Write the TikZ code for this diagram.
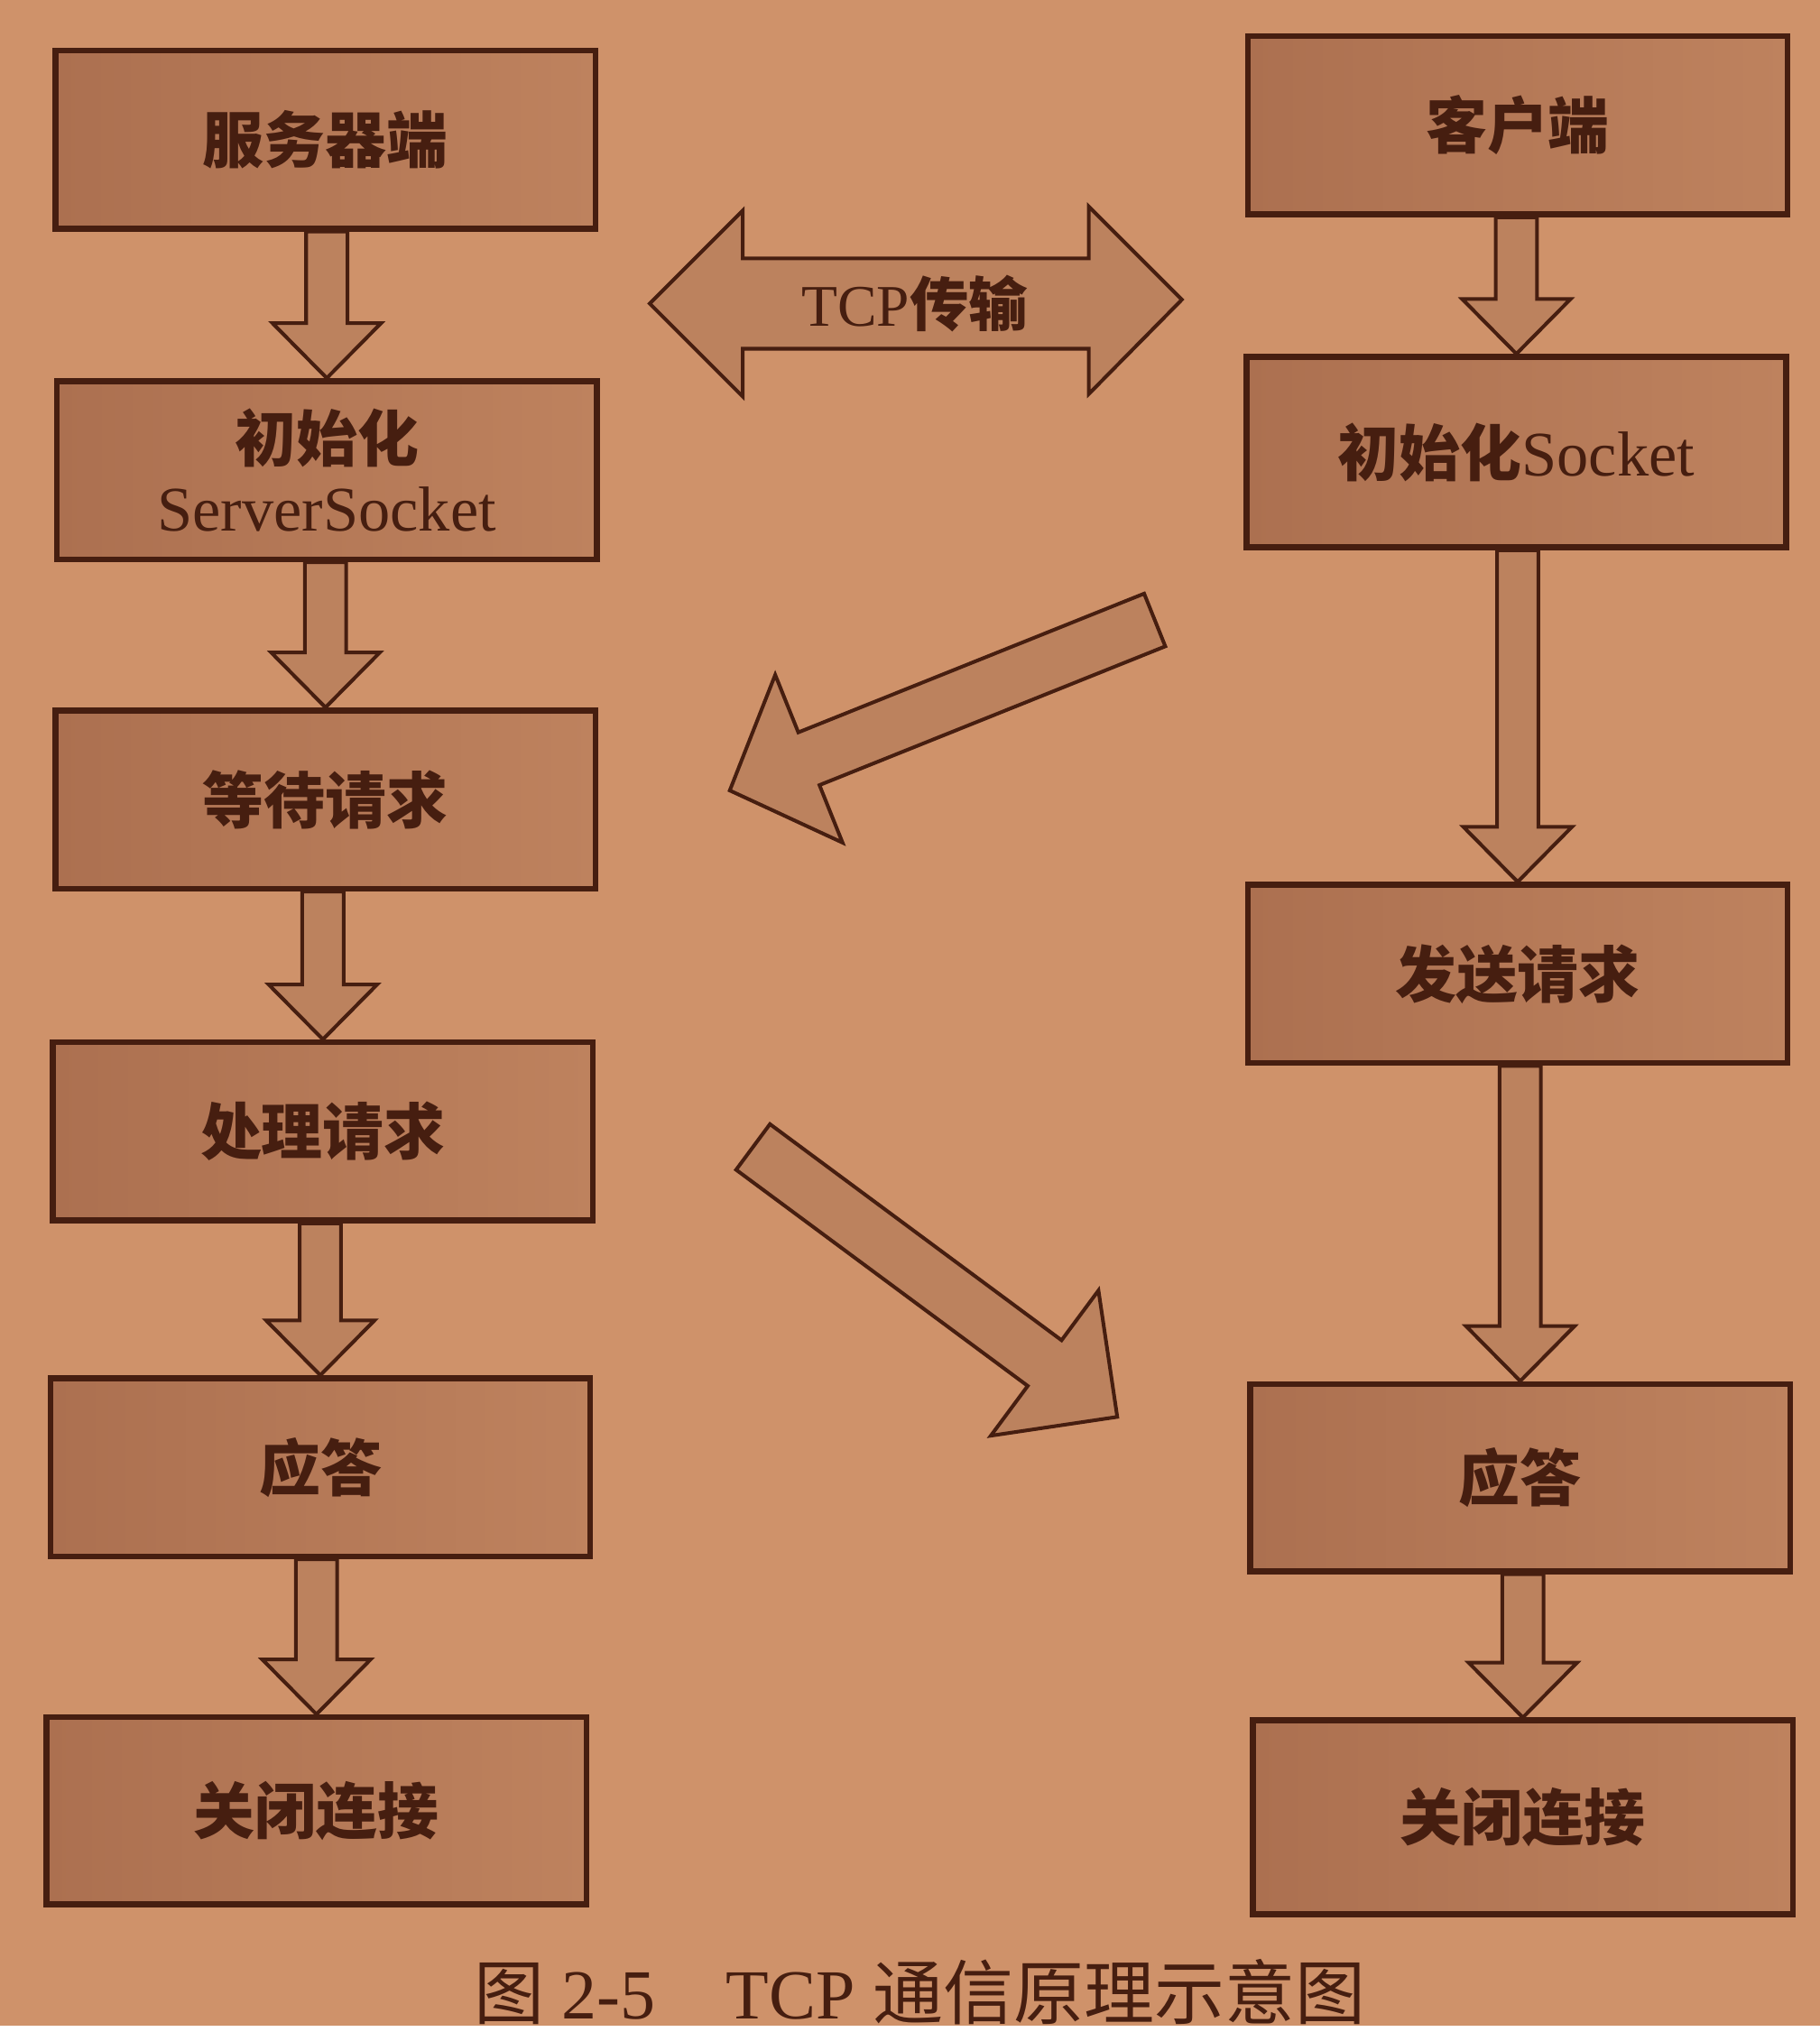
\documentclass[tikz,border=0pt]{standalone}
\usepackage{fontspec}
\setmainfont{Liberation Serif}
\newfontfamily\cjk{Noto Sans CJK SC}
\usetikzlibrary{calc}
\definecolor{paper}{RGB}{207,146,106}
\definecolor{ink}{RGB}{70,30,16}
\definecolor{boxdark}{RGB}{172,112,80}
\definecolor{boxlight}{RGB}{190,130,94}
\definecolor{arrowfill}{RGB}{188,130,94}
% block arrow: start, tip, half shaft, half head, head length
\newcommand{\blockarrow}[5]{%
	\coordinate (ba) at ($(#2)!#5!(#1)$);
	\draw[arrow body] ($(#1)!#3!90:(#2)$) -- ($(ba)!#3!90:(#2)$) -- ($(ba)!#4!90:(#2)$) -- (#2)
	-- ($(ba)!#4!-90:(#2)$) -- ($(ba)!#3!-90:(#2)$) -- ($(#1)!#3!-90:(#2)$) -- cycle;}

\begin{document}
\begin{tikzpicture}[x=0.02cm,y=-0.02cm,
	box node/.style={draw=ink,line width=2.6pt,left color=boxdark,right color=boxlight,minimum width=8.36cm,minimum height=2.76cm,text=ink,align=center,font=\cjk\bfseries\fontsize{27}{31}\selectfont},
	arrow body/.style={draw=ink,line width=1.6pt,fill=arrowfill,line join=miter}]
	\fill[paper] (0,0) rectangle (1409,1568);
	% server side
	\node[box node] (srv) at (252,108) {服务器端};
	\node[box node] (srvinit) at (253,364) {初始化\\{\rmfamily\mdseries\fontsize{28}{31}\selectfont ServerSocket}};
	\node[box node] (wait) at (252,619) {等待请求};
	\node[box node] (proc) at (250,876) {处理请求};
	\node[box node] (srvans) at (248,1136) {应答};
	\node[box node,minimum height=2.9cm] (srvclose) at (245,1402) {关闭连接};
	% client side
	\node[box node] (cli) at (1175,97) {客户端};
	\node[box node,minimum height=2.95cm] (cliinit) at (1174,350) {初始化{\rmfamily\mdseries\fontsize{28}{31}\selectfont Socket}};
	\node[box node] (send) at (1175,754) {发送请求};
	\node[box node,minimum height=2.9cm] (clians) at (1177,1144) {应答};
	\node[box node,minimum height=3cm] (cliclose) at (1179,1407) {关闭连接};
	% flow arrows
	\blockarrow{srv.south -| srvinit.north}{srvinit.north}{0.32cm}{0.84cm}{0.85cm}
	\blockarrow{srvinit.south -| wait.north}{wait.north}{0.32cm}{0.84cm}{0.85cm}
	\blockarrow{wait.south -| proc.north}{proc.north}{0.32cm}{0.84cm}{0.85cm}
	\blockarrow{proc.south -| srvans.north}{srvans.north}{0.32cm}{0.84cm}{0.85cm}
	\blockarrow{srvans.south -| srvclose.north}{srvclose.north}{0.32cm}{0.84cm}{0.85cm}
	\blockarrow{cli.south -| cliinit.north}{cliinit.north}{0.32cm}{0.84cm}{0.85cm}
	\blockarrow{cliinit.south -| send.north}{send.north}{0.32cm}{0.84cm}{0.85cm}
	\blockarrow{send.south -| clians.north}{clians.north}{0.32cm}{0.84cm}{0.85cm}
	\blockarrow{clians.south -| cliclose.north}{cliclose.north}{0.32cm}{0.84cm}{0.85cm}
	% request and reply
	\coordinate (reqtail) at (894,480);
	\coordinate (reqtip) at (565,612);
	\coordinate (reptail) at (583,888);
	\coordinate (reptip) at (865,1097);
	\blockarrow{reqtail}{reqtip}{0.44cm}{1.4cm}{1.32cm}
	\blockarrow{reptail}{reptip}{0.44cm}{1.4cm}{1.4cm}
	% tcp transfer
	\draw[arrow body] (503,235) -- (575,163) -- (575,200) -- (843,200) -- (843,160) -- (915,232)
	-- (843,305) -- (843,270) -- (575,270) -- (575,307) -- cycle;
	\node[text=ink,font=\fontsize{26}{30}\selectfont] (tcp) at (708,235) {TCP{\cjk\bfseries 传输}};
	\node[text=ink,font=\fontsize{31}{35}\selectfont] (caption) at (712,1542) {{\cjk 图} 2-5\quad TCP {\cjk 通信原理示意图}};
\end{tikzpicture}
\end{document}
